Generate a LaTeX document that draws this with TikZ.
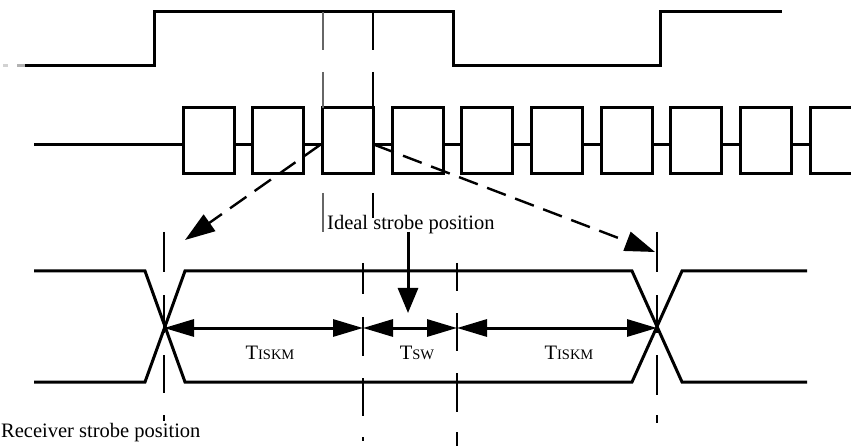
\documentclass[tikz,border=0pt]{standalone}
\usepackage{fontspec}
\setmainfont{Liberation Serif}
\usetikzlibrary{arrows.meta}
\newcommand{\tsub}[1]{T{\fontsize{14.5}{14}\selectfont #1}}
\begin{document}
\begin{tikzpicture}[x=1pt,y=-1pt,
  sig/.style={line width=3pt, line join=miter, line cap=butt},
  guide/.style={line width=2.2pt},
  lbl/.style={font=\fontsize{20.5}{22}\selectfont, inner sep=0pt},
  dimarrow/.style={line width=3pt, {Triangle[length=30pt,width=17pt]}-{Triangle[length=30pt,width=17pt]}},
  skewarrow/.style={line width=2.4pt, dash pattern=on 20pt off 10pt, -{Triangle[length=30pt,width=20pt]}},
  downarrow/.style={line width=3pt, -{Triangle[length=25pt,width=20pt]}}]
\useasboundingbox (0,0) rectangle (851,446);
\clip (0,0) rectangle (851,446);

% top strobe waveform
\draw[line width=3pt, gray!35] (3,66) -- (8,66);
\draw[line width=3pt, gray!60] (17,66) -- (25,66);
\draw[sig] (25,66) -- (154,66) -- (154,12) -- (453,12) -- (453,66) -- (660,66) -- (660,12) -- (782,12);

% data row
\draw[sig] (34,145) -- (183,145);
\foreach \i in {0,...,9} {
  \pgfmathsetmacro{\xa}{183+69.7*\i}
  \pgfmathsetmacro{\xb}{\xa+51}
  \draw[sig] (\xa,108) rectangle (\xb,174);
  \ifnum\i<9
    \pgfmathsetmacro{\xc}{\xa+69.7}
    \draw[sig] (\xb,145) -- (\xc,145);
  \fi
}

% guide lines through the ideal bit
\foreach \a/\b in {12/50, 72/108, 193/232} \draw[guide, gray!80!black] (323,\a) -- (323,\b);
\foreach \a/\b in {12/50, 72/108, 193/218} \draw[guide] (373,\a) -- (373,\b);

% eye diagram
\draw[sig] (34,271) -- (145,271) -- (185,382) -- (632,382) -- (682,271) -- (807,271);
\draw[sig] (34,382) -- (145,382) -- (185,271) -- (632,271) -- (682,382) -- (807,382);

% dashed markers in the eye
\foreach \a/\b in {232/272, 295/333, 355/393, 415/421} \draw[guide] (164,\a) -- (164,\b);
\foreach \a/\b in {232/272, 295/333, 355/395, 415/423} \draw[guide] (657,\a) -- (657,\b);
\foreach \a/\b in {263/294, 317/356, 378/416, 437/441} \draw[guide] (363,\a) -- (363,\b);
\foreach \a/\b in {263/291, 313/351, 373/412, 432/446} \draw[guide] (457,\a) -- (457,\b);

% named points
\coordinate (xl) at (164,328);
\coordinate (m1) at (363,328);
\coordinate (m2) at (457,328);
\coordinate (xr) at (657,328);
\coordinate (sl) at (320,145);
\coordinate (sr) at (375,145);
\coordinate (tl) at (185,240);
\coordinate (tr) at (655,252);
\coordinate (ds) at (408,232);
\coordinate (de) at (408,313);

\draw[dimarrow] (xl) -- (m1);
\draw[dimarrow] (m1) -- (m2);
\draw[dimarrow] (m2) -- (xr);
\draw[skewarrow] (sl) -- (tl);
\draw[skewarrow] (sr) -- (tr);
\draw[downarrow] (ds) -- (de);

% labels
\node[lbl, anchor=base] (t1) at (270,359) {\tsub{ISKM}};
\node[lbl, anchor=base] (t2) at (417,359) {\tsub{SW}};
\node[lbl, anchor=base] (t3) at (569,359) {\tsub{ISKM}};
\node[lbl, anchor=base west] (ideal) at (327,230) {Ideal strobe position};
\node[lbl, anchor=base west] (recv) at (1,437) {Receiver strobe position};
\end{tikzpicture}
\end{document}
